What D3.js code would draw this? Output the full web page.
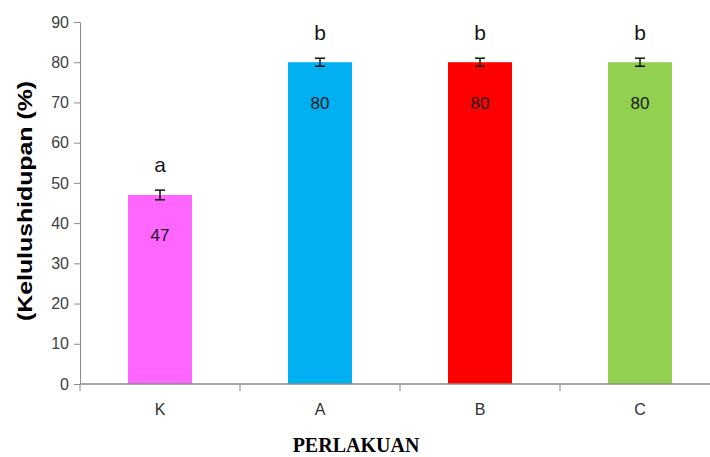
<!DOCTYPE html>
<html>
<head>
<meta charset="utf-8">
<script src="https://cdn.jsdelivr.net/npm/d3@7"></script>
<style>
  html, body { margin: 0; padding: 0; background: #fff; }
  svg { display: block; }
</style>
</head>
<body>
<svg id="chart" width="710" height="457"></svg>
<script>
// Treatment groups and their survival rate (%)
const categories = ["K", "A", "B", "C"];
const survival = [47, 80, 80, 80];
const errors = [1.2, 1, 1, 1];
const letters = ["a", "b", "b", "b"];
const barColors = ["#FF66FF", "#00B0F0", "#FF0000", "#92D050"];
const yTicks = [0, 10, 20, 30, 40, 50, 60, 70, 80, 90];

const svg = d3.select("#chart");

const x = d3.scaleBand().domain(categories).range([80, 720]).padding(0);
const y = d3.scaleLinear().domain([0, 90]).range([384, 22]);

const barW = x.bandwidth() * 0.4;
const data = categories.map((c, i) => ({
  cat: c, v: survival[i], e: errors[i], letter: letters[i], color: barColors[i]
}));

// Bars
svg.append("g").selectAll("rect").data(data).join("rect")
  .attr("x", d => x(d.cat) + (x.bandwidth() - barW) / 2)
  .attr("y", d => y(d.v))
  .attr("width", barW)
  .attr("height", d => y(0) - y(d.v))
  .attr("fill", d => d.color);

// Error bars
const eg = svg.append("g").attr("stroke", "#111").attr("stroke-width", 1.5);
data.forEach(d => {
  const cx = x(d.cat) + x.bandwidth() / 2;
  eg.append("line").attr("x1", cx).attr("x2", cx)
    .attr("y1", y(d.v + d.e)).attr("y2", y(d.v - d.e));
  eg.append("line").attr("x1", cx - 5).attr("x2", cx + 5)
    .attr("y1", y(d.v + d.e)).attr("y2", y(d.v + d.e));
  eg.append("line").attr("x1", cx - 5).attr("x2", cx + 5)
    .attr("y1", y(d.v - d.e)).attr("y2", y(d.v - d.e));
});

// Value labels inside bars
svg.append("g").selectAll("text").data(data).join("text")
  .attr("x", d => x(d.cat) + x.bandwidth() / 2)
  .attr("y", d => y(d.v) + 41)
  .attr("text-anchor", "middle")
  .attr("dominant-baseline", "central")
  .attr("font-family", "Liberation Sans, Arial, sans-serif")
  .attr("font-size", 17)
  .attr("fill", "#1a1a1a")
  .text(d => d.v);

// Significance letters above bars
svg.append("g").selectAll("text").data(data).join("text")
  .attr("x", d => x(d.cat) + x.bandwidth() / 2)
  .attr("y", d => y(d.v) - 30)
  .attr("text-anchor", "middle")
  .attr("dominant-baseline", "central")
  .attr("font-family", "Liberation Sans, Arial, sans-serif")
  .attr("font-size", 21)
  .attr("fill", "#1a1a1a")
  .text(d => d.letter);

// Y axis
const yAxis = svg.append("g")
  .attr("transform", "translate(80,0)")
  .call(d3.axisLeft(y).tickValues(yTicks).tickSize(6).tickPadding(5).tickSizeOuter(0));
yAxis.select(".domain").attr("stroke", "#8c8c8c");
yAxis.selectAll(".tick line").attr("stroke", "#8c8c8c");
yAxis.selectAll(".tick text")
  .attr("font-family", "Liberation Sans, Arial, sans-serif")
  .attr("font-size", 16)
  .attr("fill", "#404040");

// X axis line with ticks at band boundaries
const xg = svg.append("g");
xg.append("line")
  .attr("x1", 80).attr("x2", 710)
  .attr("y1", y(0)).attr("y2", y(0))
  .attr("stroke", "#8c8c8c").attr("stroke-width", 1.5);
categories.forEach(c => {
  xg.append("line")
    .attr("x1", x(c)).attr("x2", x(c))
    .attr("y1", y(0)).attr("y2", y(0) + 7)
    .attr("stroke", "#8c8c8c");
});
xg.selectAll("text").data(categories).join("text")
  .attr("x", c => x(c) + x.bandwidth() / 2)
  .attr("y", 409)
  .attr("text-anchor", "middle")
  .attr("dominant-baseline", "central")
  .attr("font-family", "Liberation Sans, Arial, sans-serif")
  .attr("font-size", 16)
  .attr("fill", "#303030")
  .text(c => c);

// Axis titles
svg.append("text")
  .attr("x", 356).attr("y", 445)
  .attr("text-anchor", "middle")
  .attr("dominant-baseline", "central")
  .attr("font-family", "Liberation Serif, Times New Roman, serif")
  .attr("font-weight", "bold")
  .attr("font-size", 20)
  .attr("fill", "#000")
  .text("PERLAKUAN");

svg.append("text")
  .attr("transform", "translate(32,201) rotate(-90)")
  .attr("text-anchor", "middle")
  .attr("font-family", "Liberation Sans, Arial, sans-serif")
  .attr("font-weight", "bold")
  .attr("font-size", 20)
  .attr("textLength", 240)
  .attr("lengthAdjust", "spacingAndGlyphs")
  .attr("fill", "#000")
  .text("(Kelulushidupan (%)");
</script>
</body>
</html>
